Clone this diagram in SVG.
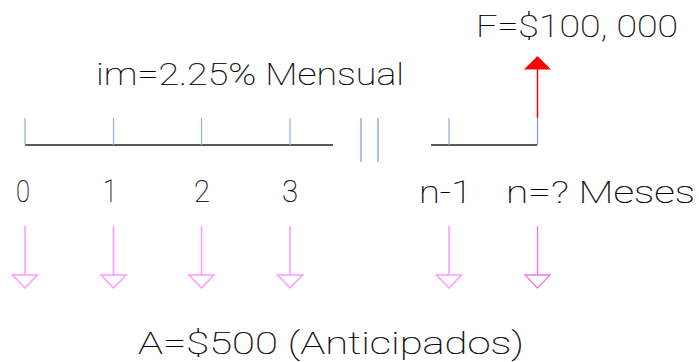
<svg xmlns="http://www.w3.org/2000/svg" width="699" height="362" viewBox="0 0 699 362">
<style>
text{font-family:Roboto,"Liberation Sans",sans-serif;font-weight:100;font-size:31px;fill:#000;stroke:#000;stroke-width:0.2}
.axis{stroke:#222;stroke-width:1.3;fill:none}
.tick{stroke:#8fb3dd;stroke-width:1.2}
.brk{stroke:#6f9fd8;stroke-width:1.2}
.pay{stroke:#ff99ff;stroke-width:1.5;fill:none}
.pay2{stroke:#ee77ee;stroke-width:1.3;fill:none}
</style>
<rect width="699" height="362" fill="#fff"/>
<g id="timeline">
<line class="axis" x1="25" y1="145" x2="333" y2="145"/>
<line class="axis" x1="431" y1="145" x2="537" y2="145"/>
<line class="tick" x1="25" y1="118" x2="25" y2="145"/>
<line class="tick" x1="113.5" y1="118" x2="113.5" y2="145"/>
<line class="tick" x1="201.5" y1="118" x2="201.5" y2="145"/>
<line class="tick" x1="290" y1="118" x2="290" y2="145"/>
<line class="tick" x1="449" y1="118" x2="449" y2="145"/>
<line class="brk" x1="361" y1="118" x2="361" y2="162"/>
<line class="brk" x1="378" y1="118" x2="378" y2="162"/>
<line class="brk" x1="537.5" y1="118" x2="537.5" y2="145"/>
</g>
<g id="future-value">
<line x1="537.5" y1="118" x2="537.5" y2="69" stroke="#ff0000" stroke-width="1.5"/>
<polygon points="524,69.5 551,69.5 537.5,56" fill="#ff0000"/>
<text x="476" y="37" textLength="202" lengthAdjust="spacingAndGlyphs">F=$100, 000</text>
</g>
<g id="rate">
<text x="96" y="85" textLength="308" lengthAdjust="spacingAndGlyphs">im=2.25% Mensual</text>
</g>
<g id="labels">
<text x="16" y="202" textLength="14" lengthAdjust="spacingAndGlyphs">0</text>
<text x="103" y="202" textLength="14" lengthAdjust="spacingAndGlyphs">1</text>
<text x="194" y="202" textLength="16" lengthAdjust="spacingAndGlyphs">2</text>
<text x="282" y="202" textLength="16" lengthAdjust="spacingAndGlyphs">3</text>
<text x="419" y="203" textLength="53" lengthAdjust="spacingAndGlyphs">n-1</text>
<text x="506" y="203" textLength="189" lengthAdjust="spacingAndGlyphs">n=? Meses</text>
</g>
<g id="payments">
<path class="pay" d="M25,226V275M12.5,275H37.5L25,288Z"/>
<path class="pay" d="M113.5,226V275M101,275H126L113.5,288Z"/>
<path class="pay" d="M201.5,226V275M189,275H214L201.5,288Z"/>
<path class="pay" d="M290,226V275M277.5,275H302.5L290,288Z"/>
<path class="pay" d="M449,226V275M436.5,275H461.5L449,288Z"/>
<path class="pay2" d="M537.5,226V275M525,275H550L537.5,288Z"/>
<text x="138" y="354" textLength="386" lengthAdjust="spacingAndGlyphs">A=$500 (Anticipados)</text>
</g>
</svg>
